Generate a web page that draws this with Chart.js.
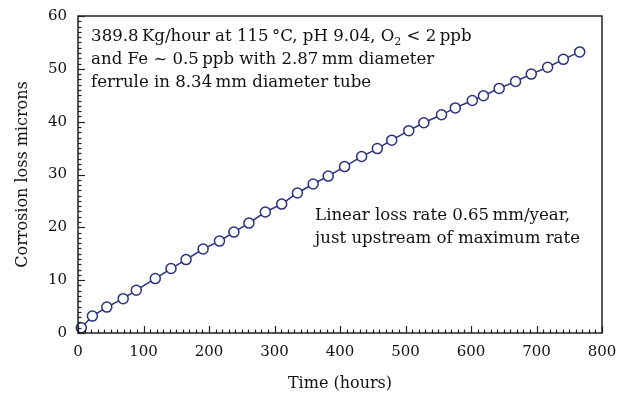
<!DOCTYPE html>
<html>
<head>
<meta charset="utf-8">
<script src="https://cdn.jsdelivr.net/npm/chart.js@4"></script>
<style>
  html, body { margin: 0; padding: 0; background: #fff; }
  #wrap { width: 628px; height: 395px; }
</style>
</head>
<body>
<div id="wrap"><canvas id="c"></canvas></div>
<script>
// 시간(시간 단위)과 부식 손실(microns), 그림에서 읽은 값
const HOURS = [5, 22, 44, 69, 89, 118, 142, 165, 191, 216, 238, 261, 286, 311, 335, 359, 382, 407, 433,
               457, 479, 505, 528, 555, 576, 602, 619, 643, 668, 692, 717, 741, 766];
const LOSS  = [1.0, 3.2, 4.9, 6.5, 8.1, 10.3, 12.2, 13.9, 15.9, 17.4, 19.1, 20.8, 22.9, 24.4, 26.5, 28.2, 29.7, 31.5, 33.4,
               34.9, 36.5, 38.3, 39.8, 41.3, 42.6, 44.0, 44.9, 46.3, 47.6, 49.0, 50.3, 51.8, 53.2];

const X_TICKS = [0, 100, 200, 300, 400, 500, 600, 700, 800];
const Y_TICKS = [0, 10, 20, 30, 40, 50, 60];

const NOTE_1 = ['389.8\u2009Kg/hour at 115\u2009°C, pH 9.04, O', '2', ' < 2\u2009ppb'];
const NOTE_2 = 'and Fe ~ 0.5\u2009ppb with 2.87\u2009mm diameter';
const NOTE_3 = 'ferrule in 8.34\u2009mm diameter tube';
const NOTE_4 = 'Linear loss rate 0.65\u2009mm/year,';
const NOTE_5 = 'just upstream of maximum rate';

const SERIF = '"DejaVu Serif", "Liberation Serif", serif';
const NAVY  = '#2b3080';

// ── 안쪽 눈금 + 테두리 + 주석 ──
const framePlugin = {
  id: 'frame',
  afterDraw(chart) {
    const { ctx, chartArea: a, scales: { x, y } } = chart;
    ctx.save();
    ctx.strokeStyle = '#222';
    ctx.lineWidth = 1.2;
    for (let v = 0; v <= 800; v += 10) {
      const px = Math.round(x.getPixelForValue(v)) + 0.5;
      const len = v % 100 === 0 ? 7 : 3.5;
      ctx.beginPath(); ctx.moveTo(px, a.bottom); ctx.lineTo(px, a.bottom - len); ctx.stroke();
    }
    for (let v = 0; v <= 60; v += 1) {
      const py = Math.round(y.getPixelForValue(v)) + 0.5;
      const len = v % 10 === 0 ? 7 : 3.5;
      ctx.beginPath(); ctx.moveTo(a.left, py); ctx.lineTo(a.left + len, py); ctx.stroke();
    }
    ctx.lineWidth = 1.5;
    ctx.strokeRect(a.left, a.top, a.right - a.left, a.bottom - a.top);

    // 주석 텍스트
    const big = '16.6px ' + SERIF, small = '11px ' + SERIF;
    ctx.fillStyle = '#111';
    ctx.textBaseline = 'alphabetic';
    ctx.font = big;
    let tx = x.getPixelForValue(20);
    const y1 = y.getPixelForValue(55.3);
    ctx.fillText(NOTE_1[0], tx, y1);
    tx += ctx.measureText(NOTE_1[0]).width;
    ctx.font = small;
    ctx.fillText(NOTE_1[1], tx, y1 + 4);
    tx += ctx.measureText(NOTE_1[1]).width;
    ctx.font = big;
    ctx.fillText(NOTE_1[2], tx, y1);
    ctx.fillText(NOTE_2, x.getPixelForValue(20), y1 + 23);
    ctx.fillText(NOTE_3, x.getPixelForValue(20), y1 + 46);
    ctx.fillText(NOTE_4, x.getPixelForValue(362), y.getPixelForValue(21.3));
    ctx.fillText(NOTE_5, x.getPixelForValue(362), y.getPixelForValue(21.3) + 23);
    ctx.restore();
  }
};

new Chart(document.getElementById('c'), {
  type: 'line',
  data: {
    datasets: [{
      data: HOURS.map((h, i) => ({ x: h, y: LOSS[i] })),
      borderColor: NAVY,
      borderWidth: 1.5,
      pointRadius: 5,
      pointBorderWidth: 1.5,
      pointBackgroundColor: '#fff',
      pointBorderColor: NAVY,
      tension: 0,
      clip: false,
    }]
  },
  options: {
    responsive: true,
    maintainAspectRatio: false,
    animation: false,
    layout: { padding: { top: 16, right: 26, left: 0, bottom: 0 } },
    plugins: { legend: { display: false }, tooltip: { enabled: false } },
    scales: {
      x: {
        type: 'linear', min: 0, max: 800,
        afterBuildTicks: s => { s.ticks = X_TICKS.map(v => ({ value: v })); },
        afterFit: s => { s.height = 62; s.paddingLeft = 0; s.paddingRight = 0; },
        grid: { display: false, drawTicks: false },
        border: { display: false },
        ticks: { padding: 10, color: '#111', font: { family: SERIF, size: 15 } },
        title: { display: true, text: 'Time (hours)', color: '#111', padding: { top: 2, bottom: 2 },
                 font: { family: SERIF, size: 16 } },
      },
      y: {
        type: 'linear', min: 0, max: 60,
        afterBuildTicks: s => { s.ticks = Y_TICKS.map(v => ({ value: v })); },
        afterFit: s => { s.width = 78; s.paddingTop = 0; s.paddingBottom = 0; },
        grid: { display: false, drawTicks: false },
        border: { display: false },
        ticks: { padding: 11, color: '#111', font: { family: SERIF, size: 15 } },
        title: { display: true, text: 'Corrosion loss microns', color: '#111', padding: { top: 13, bottom: 2 },
                 font: { family: SERIF, size: 16 } },
      }
    }
  },
  plugins: [framePlugin]
});
</script>
</body>
</html>
